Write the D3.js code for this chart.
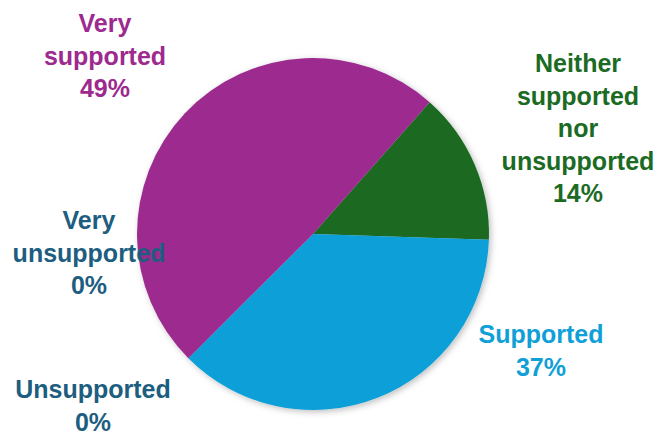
<!DOCTYPE html>
<html>
<head>
<meta charset="utf-8">
<script src="https://cdn.jsdelivr.net/npm/d3@7"></script>
<style>
  html, body { margin: 0; padding: 0; background: #ffffff; }
  svg { display: block; }
  text { font-family: "Liberation Sans", Arial, sans-serif; font-weight: bold; }
</style>
</head>
<body>
<svg id="chart" width="659" height="434"></svg>
<script>
// Survey responses: how supported people felt
const categories = ["Very unsupported", "Unsupported", "Neither supported nor unsupported", "Supported", "Very supported"];
const shares = [0, 0, 14, 37, 49];
const sliceColors = ["#1d5e80", "#1d5e80", "#1b6b24", "#109fd7", "#9d2a8f"];

// Label text split into lines, and where each label block is centred
const labelLines = [
  ["Very", "unsupported"],
  ["Unsupported"],
  ["Neither", "supported", "nor", "unsupported"],
  ["Supported"],
  ["Very", "supported"]
];
const labelAnchors = [
  [89, 229], [93, 398], [578, 72], [541, 343], [105, 32]
];

const svg = d3.select("#chart");
const cx = 313, cy = 234, radius = 176;
const startDeg = 41.5;

const defs = svg.append("defs");
const shadow = defs.append("filter").attr("id", "pieShadow")
  .attr("x", "-20%").attr("y", "-20%").attr("width", "140%").attr("height", "140%");
shadow.append("feDropShadow")
  .attr("dx", 2).attr("dy", 2).attr("stdDeviation", 3)
  .attr("flood-color", "#000").attr("flood-opacity", 0.25);

const data = categories.map((c, i) => ({ category: c, value: shares[i], color: sliceColors[i], lines: labelLines[i], anchor: labelAnchors[i] }));

const pie = d3.pie()
  .sort(null)
  .value(d => d.value)
  .startAngle(startDeg * Math.PI / 180)
  .endAngle(startDeg * Math.PI / 180 + 2 * Math.PI);

const arc = d3.arc().innerRadius(0).outerRadius(radius);

const g = svg.append("g").attr("transform", `translate(${cx},${cy})`);
g.append("g").attr("filter", "url(#pieShadow)")
  .selectAll("path")
  .data(pie(data).filter(d => d.data.value > 0))
  .join("path")
  .attr("d", arc)
  .attr("fill", d => d.data.color);

// Data labels: category name lines followed by the percentage
const lineH = 32.5;
const labels = svg.append("g").selectAll("text")
  .data(data)
  .join("text")
  .attr("text-anchor", "middle")
  .attr("font-size", 25)
  .attr("fill", d => d.color);

labels.each(function(d) {
  const t = d3.select(this);
  const rows = d.lines.concat([d3.format(".0f")(d.value) + "%"]);
  rows.forEach((row, k) => {
    t.append("tspan")
      .attr("x", d.anchor[0])
      .attr("y", d.anchor[1] + k * lineH)
      .text(row);
  });
});
</script>
</body>
</html>
